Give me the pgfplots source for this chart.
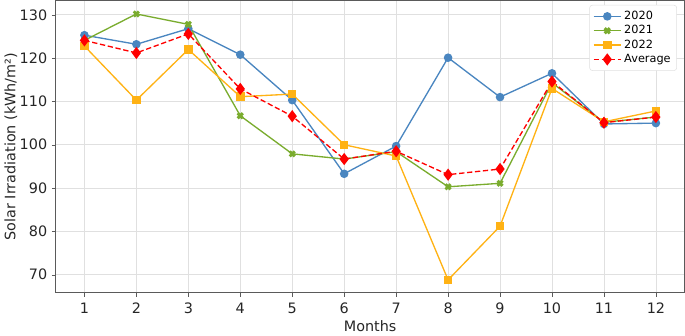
\documentclass[border=0pt]{standalone}
\usepackage{pgfplots}
\pgfplotsset{compat=1.18}
\usepackage{fontspec}
\setmainfont{DejaVu Sans}
\definecolor{c20}{RGB}{74,134,192}
\definecolor{c21}{RGB}{122,172,46}
\definecolor{c22}{RGB}{255,178,20}
\definecolor{gridc}{RGB}{224,224,224}
\definecolor{framec}{RGB}{90,90,90}
\begin{document}
\begin{tikzpicture}
\begin{axis}[
  scale only axis,
  width=472.5pt, height=219.75pt,
  xmin=0.45, xmax=12.55, ymin=65.8, ymax=133.3,
  xtick={1,...,12}, ytick={70,80,...,130},
  grid=major,
  major grid style={gridc, line width=0.6pt},
  axis line style={framec, line width=0.8pt},
  tick style={framec},
  tick align=outside,
  major tick length=3pt,
  xtick pos=bottom, ytick pos=left,
  ticklabel style={font=\fontsize{10.8}{12}\selectfont, text=black!85},
  xticklabel style={yshift=-1pt},
  /pgf/number format/assume math mode=true,
  xlabel={Months}, ylabel={Solar Irradiation (kWh/m²)},
  label style={font=\fontsize{10.8}{12}\selectfont, text=black!85},
  xlabel style={yshift=2pt},
  ylabel style={yshift=-5pt},
  legend style={font=\fontsize{8.5}{9}\selectfont, draw=gridc, rounded corners=2pt, row sep=-1pt, at={(0.988,0.985)}, anchor=north east, inner sep=2.5pt},
  legend cell align=left,
  legend image code/.code={\draw[mark=none] (0cm,0cm) -- (0.72cm,0cm); \draw[solid] plot coordinates {(0.36cm,0cm)};},
]
\addplot[c20, line width=1pt, mark=*, mark size=2.7pt] coordinates {
(1,125.3)(2,123.2)(3,126.8)(4,120.8)(5,110.3)(6,93.3)(7,99.7)(8,120.1)(9,111.0)(10,116.5)(11,104.8)(12,105.0)};
\addlegendentry{2020}
\addplot[c21, line width=1pt, mark=x, mark size=2.7pt, mark options={line width=2.2pt}] coordinates {
(1,124.1)(2,130.2)(3,127.8)(4,106.7)(5,97.9)(6,96.7)(7,98.4)(8,90.3)(9,91.1)(10,114.3)(11,105.2)(12,106.4)};
\addlegendentry{2021}
\addplot[c22, line width=1pt, mark=square*, mark size=2.7pt] coordinates {
(1,122.8)(2,110.3)(3,122.0)(4,111.1)(5,111.7)(6,100.0)(7,97.4)(8,68.8)(9,81.2)(10,113.0)(11,105.3)(12,107.8)};
\addlegendentry{2022}
\addplot[red, line width=1pt, dash pattern=on 4pt off 2pt, mark=diamond*, mark size=3.8pt, mark options={solid}] coordinates {
(1,124.1)(2,121.2)(3,125.6)(4,112.9)(5,106.6)(6,96.7)(7,98.5)(8,93.1)(9,94.4)(10,114.6)(11,105.1)(12,106.4)};
\addlegendentry{Average}
\end{axis}
\end{tikzpicture}
\end{document}
